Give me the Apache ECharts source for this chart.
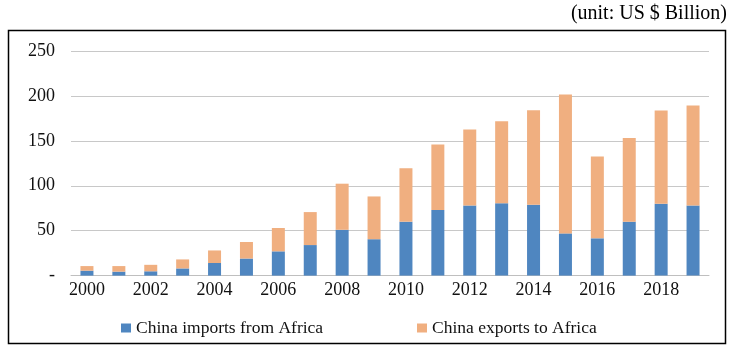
<!DOCTYPE html>
<html>
<head>
<meta charset="utf-8">
<script src="https://cdn.jsdelivr.net/npm/echarts@6/dist/echarts.min.js"></script>
<style>html,body{margin:0;padding:0;background:#fff}#c{width:735px;height:351px}</style>
</head>
<body>
<div id="c"></div>
<script>
const years = ['2000','2001','2002','2003','2004','2005','2006','2007','2008','2009','2010','2011','2012','2013','2014','2015','2016','2017','2018','2019'];
const imports = [5.5,4.4,4.8,8,14,19,27,34,51,40.5,60,73,78,80.5,79,47,41.5,60,80,78];
const exports = [5.1,6.2,7.2,10,14,18.4,26,36.7,51.3,47.6,59.5,73,84.5,91.4,105,154.7,91,93.3,103.9,111.3];
const seriesNames = ['China imports from Africa','China exports to Africa'];
const FONT = '"Liberation Serif","Times New Roman",serif';
const chart = echarts.init(document.getElementById('c'));
chart.setOption({
  animation: false,
  textStyle: {fontFamily: FONT},
  graphic: [
    {type:'rect', shape:{x:8.5,y:30.5,width:717,height:313}, style:{fill:'none', stroke:'#000', lineWidth:1.5}},
    {type:'text', right:8, top:4, style:{text:'(unit: US $ Billion)', font:'20px '+FONT, fill:'#000'}}
  ],
  grid: {left:71, right:26, top:51, bottom:75.4},
  legend: [
    {data:[seriesNames[0]], left:116, top:314, itemWidth:10, itemHeight:9, icon:'rect', itemGap:5,
     textStyle:{fontFamily:FONT, fontSize:17.5, color:'#111'}},
    {data:[seriesNames[1]], left:412, top:314, itemWidth:10, itemHeight:9, icon:'rect',
     textStyle:{fontFamily:FONT, fontSize:17.5, color:'#111'}}
  ],
  xAxis: {
    type:'category', data: years,
    axisTick:{show:false},
    axisLine:{lineStyle:{color:'#bfbfbf', width:1}},
    axisLabel:{interval:1, fontFamily:FONT, fontSize:18, color:'#111', margin:6}
  },
  yAxis: {
    type:'value', min:0, max:250, interval:50,
    axisLine:{show:false}, axisTick:{show:false},
    splitLine:{lineStyle:{color:'#c8c8c8', width:1}},
    axisLabel:{fontFamily:FONT, fontSize:18, color:'#111', margin:16,
      formatter: v => v === 0 ? '-' : String(v)}
  },
  series: [
    {name:seriesNames[0], type:'bar', stack:'t', data:imports, barWidth:13, itemStyle:{color:'#4F86C0'}},
    {name:seriesNames[1], type:'bar', stack:'t', data:exports, barWidth:13, itemStyle:{color:'#F0AF80'}}
  ]
});
</script>
</body>
</html>
